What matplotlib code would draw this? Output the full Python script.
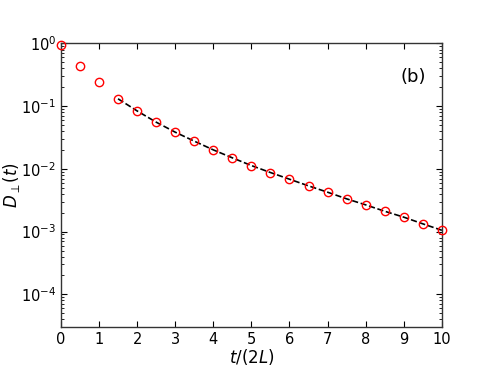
import matplotlib
matplotlib.use("Agg")
import matplotlib.pyplot as plt
import numpy as np

# Data
t_vals = [0.0, 0.5, 1.0, 1.5, 2.0, 2.5, 3.0, 3.5, 4.0, 4.5, 5.0, 5.5, 6.0,
          6.5, 7.0, 7.5, 8.0, 8.5, 9.0, 9.5, 10.0]
D_vals = [0.93, 0.435, 0.239, 0.131, 0.084, 0.0556, 0.0385, 0.0277, 0.0201,
          0.0150, 0.0113, 0.00875, 0.00685, 0.00536, 0.00425, 0.00333,
          0.00267, 0.00211, 0.00170, 0.00133, 0.00105]
fit_t = [1.5, 2.0, 2.5, 3.0, 3.5, 4.0, 4.5, 5.0, 5.5, 6.0, 6.5, 7.0, 7.5,
         8.0, 8.5, 9.0, 9.5, 10.0]
fit_D = [0.131, 0.084, 0.0556, 0.0385, 0.0277, 0.0201, 0.0150, 0.0113,
         0.00875, 0.00685, 0.00536, 0.00425, 0.00333, 0.00267, 0.00211,
         0.00170, 0.00133, 0.00105]
x_ticks = [0, 1, 2, 3, 4, 5, 6, 7, 8, 9, 10]

fig = plt.figure(figsize=(4.91, 3.68), dpi=100)
ax = fig.add_axes([0.124, 0.111, 0.776, 0.771])

ax.plot(fit_t, fit_D, linestyle='--', color='black', linewidth=1.2, zorder=2)
ax.plot(t_vals, D_vals, linestyle='none', marker='o', markersize=6,
        markerfacecolor='none', markeredgecolor='red', markeredgewidth=1.0,
        zorder=3, clip_on=False)

ax.set_yscale('log')
ax.set_xlim(0, 10)
ax.set_ylim(3e-5, 1)
ax.set_xticks(x_ticks)
ax.set_xticklabels([str(v) for v in x_ticks])

ax.tick_params(which='both', direction='in', top=True, right=True,
               labelsize=10.5)
ax.tick_params(which='major', length=4, width=0.8)
ax.tick_params(which='minor', length=2, width=0.6)
for s in ax.spines.values():
    s.set_color('#333333')
    s.set_linewidth(1.0)

ax.set_xlabel(r'$t/(2L)$', fontsize=12, labelpad=0)
ax.set_ylabel(r'$D_\perp(t)$', fontsize=12, labelpad=-1)
ax.text(0.925, 0.88, '(b)', transform=ax.transAxes, fontsize=13,
        ha='center', va='center')

fig.savefig('out.png', dpi=100)
